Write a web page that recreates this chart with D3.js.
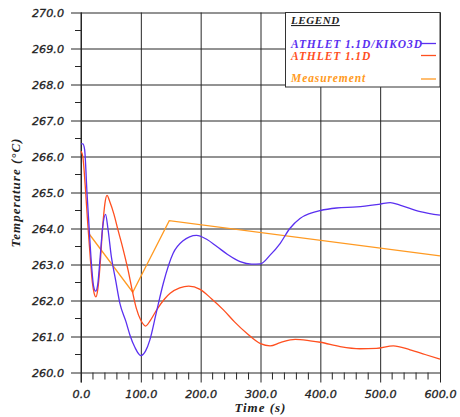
<!DOCTYPE html>
<html>
<head>
<meta charset="utf-8">
<script src="https://cdn.jsdelivr.net/npm/d3@7"></script>
<style>
  html, body { margin: 0; padding: 0; background: #fff; }
  svg { display: block; }
</style>
</head>
<body>
<svg id="chart" width="460" height="417"></svg>
<script>
// Fuel/coolant temperature transient: coupled code, standalone code, measurement
const timeKiko = [0, 3, 6, 10, 14, 18, 21, 24.5, 28, 32, 36, 41, 45, 50.7, 58, 65, 75, 82, 90, 100, 108, 115, 125, 137.6, 154, 170, 193, 210, 227, 245, 266, 285, 300, 316, 333, 349, 366, 383, 400, 427, 461, 500, 517, 533, 567, 600];
const tempKiko = [266.35, 266.35, 266.2, 265.0, 263.9, 262.9, 262.4, 262.26, 262.45, 263.2, 264.0, 264.39, 264.0, 263.22, 262.55, 261.92, 261.42, 261.03, 260.7, 260.47, 260.6, 260.9, 261.6, 262.48, 263.31, 263.65, 263.81, 263.7, 263.5, 263.28, 263.08, 263.01, 263.02, 263.26, 263.59, 264.0, 264.28, 264.42, 264.5, 264.57, 264.6, 264.68, 264.72, 264.65, 264.47, 264.37];

const timeAthlet = [0, 3, 7, 11, 15, 19, 22, 25, 28, 32, 36, 40, 43.5, 48, 55, 61.8, 70, 78.6, 86, 92.5, 100, 108, 116, 126.5, 140, 149, 165, 180, 199, 218, 238, 257, 277, 300, 316, 333, 358, 383, 400, 433, 466, 494, 522, 550, 575, 600];
const tempAthlet = [266.15, 266.0, 265.2, 264.2, 263.3, 262.5, 262.2, 262.1, 262.3, 263.0, 264.0, 264.7, 264.92, 264.75, 264.4, 263.96, 263.45, 262.85, 262.25, 261.78, 261.45, 261.29, 261.45, 261.74, 262.05, 262.2, 262.35, 262.4, 262.31, 262.05, 261.74, 261.4, 261.09, 260.8, 260.74, 260.83, 260.92, 260.88, 260.84, 260.72, 260.66, 260.67, 260.74, 260.63, 260.5, 260.37];

const timeMeas = [14, 86.5, 147.5, 600];
const tempMeas = [263.84, 262.23, 264.22, 263.24];

const xMajorTicks = [0, 100, 200, 300, 400, 500, 600];
const yMajorTicks = [260, 261, 262, 263, 264, 265, 266, 267, 268, 269, 270];

const legendLabels = ["ATHLET 1.1D/KIKO3D", "ATHLET 1.1D", "Measurement"];
const seriesColors = ["#5a30f0", "#ff4f1f", "#ff9a22"];

const svg = d3.select("#chart");
const plotLeft = 81, plotRight = 440, plotTop = 12.5, plotBottom = 372.5;

const x = d3.scaleLinear().domain([0, 600]).range([plotLeft, plotRight]);
const y = d3.scaleLinear().domain([260, 270]).range([plotBottom, plotTop]);

const gridColor = "#262626";
const tickFont = "DejaVu Sans, Verdana, sans-serif";
const serifFont = "Liberation Serif, Times New Roman, serif";

function styleTickText(sel) {
  sel.attr("font-family", tickFont).attr("font-style", "italic")
    .attr("font-size", 11.2).attr("fill", "#222")
    .attr("stroke", "#222").attr("stroke-width", 0.3);
}

// Y axis: major grid lines running out into the tick marks, minor ticks at 0.5
const yAxis = d3.axisLeft(y)
  .tickValues(yMajorTicks)
  .tickSize(-(plotRight - plotLeft) - 10)
  .tickPadding(7)
  .tickFormat(d3.format(".1f"));
const gy = svg.append("g")
  .attr("transform", `translate(${plotLeft - 10},0)`)
  .call(yAxis);
gy.select(".domain").remove();
gy.selectAll(".tick line").attr("stroke", gridColor);
gy.selectAll(".tick text").attr("x", -7).call(styleTickText);

const yMinor = d3.range(260.5, 270, 1);
svg.append("g").selectAll("line").data(yMinor).join("line")
  .attr("x1", plotLeft - 6).attr("x2", plotLeft)
  .attr("y1", d => y(d)).attr("y2", d => y(d))
  .attr("stroke", gridColor);

// X axis: major grid lines extending below the frame, minor ticks every 20 s
const xAxis = d3.axisBottom(x)
  .tickValues(xMajorTicks)
  .tickSize(-(plotBottom - plotTop) - 10)
  .tickPadding(8)
  .tickFormat(d3.format(".1f"));
const gx = svg.append("g")
  .attr("transform", `translate(0,${plotBottom + 10})`)
  .call(xAxis);
gx.select(".domain").remove();
gx.selectAll(".tick line").attr("stroke", gridColor);
gx.selectAll(".tick text").attr("y", 8).call(styleTickText);

const xMinor = d3.range(20, 600, 20).filter(d => d % 100 !== 0);
svg.append("g").selectAll("line").data(xMinor).join("line")
  .attr("x1", d => x(d)).attr("x2", d => x(d))
  .attr("y1", plotBottom).attr("y2", plotBottom + 7)
  .attr("stroke", gridColor);

// Left axis line
svg.append("line")
  .attr("x1", plotLeft).attr("x2", plotLeft).attr("y1", plotTop).attr("y2", plotBottom + 10)
  .attr("stroke", gridColor);

// Axis titles
svg.append("text")
  .attr("x", (plotLeft + plotRight) / 2).attr("y", 412)
  .attr("text-anchor", "middle")
  .attr("font-family", serifFont).attr("font-style", "italic").attr("font-weight", "bold")
  .attr("font-size", 13).attr("letter-spacing", 1).attr("fill", "#222")
  .text("Time (s)");

svg.append("text")
  .attr("transform", `translate(20,${(plotTop + plotBottom) / 2}) rotate(-90)`)
  .attr("text-anchor", "middle")
  .attr("font-family", serifFont).attr("font-style", "italic").attr("font-weight", "bold")
  .attr("font-size", 13).attr("letter-spacing", 1).attr("fill", "#222")
  .text("Temperature (°C)");

// Curves
const smooth = d3.line().x(d => x(d[0])).y(d => y(d[1])).curve(d3.curveMonotoneX);
const straight = d3.line().x(d => x(d[0])).y(d => y(d[1]));

const plot = svg.append("g");
plot.append("path")
  .datum(d3.zip(timeMeas, tempMeas))
  .attr("d", straight).attr("fill", "none")
  .attr("stroke", seriesColors[2]).attr("stroke-width", 1.3);
plot.append("path")
  .datum(d3.zip(timeAthlet, tempAthlet))
  .attr("d", smooth).attr("fill", "none")
  .attr("stroke", seriesColors[1]).attr("stroke-width", 1.3);
plot.append("path")
  .datum(d3.zip(timeKiko, tempKiko))
  .attr("d", smooth).attr("fill", "none")
  .attr("stroke", seriesColors[0]).attr("stroke-width", 1.3);

// Legend box
const lg = svg.append("g");
lg.append("rect")
  .attr("x", 285.5).attr("y", 12.5).attr("width", 154.5).attr("height", 74.5)
  .attr("fill", "#fff").attr("stroke", "#333");
lg.append("text")
  .attr("x", 291).attr("y", 24)
  .attr("font-family", serifFont).attr("font-style", "italic").attr("font-weight", "bold")
  .attr("font-size", 11).attr("letter-spacing", 0.6).attr("fill", "#222")
  .attr("text-decoration", "underline")
  .text("LEGEND");

const legendY = [47.5, 59.5, 82];
const lineY = [43.5, 55.5, 79];
legendLabels.forEach((label, i) => {
  lg.append("text")
    .attr("x", 291).attr("y", legendY[i])
    .attr("font-family", serifFont).attr("font-style", "italic").attr("font-weight", "bold")
    .attr("font-size", 11.5).attr("letter-spacing", 0.9).attr("fill", seriesColors[i])
    .text(label);
  lg.append("line")
    .attr("x1", 421).attr("x2", 436)
    .attr("y1", lineY[i]).attr("y2", lineY[i])
    .attr("stroke", seriesColors[i]).attr("stroke-width", 1.3);
});
</script>
</body>
</html>
